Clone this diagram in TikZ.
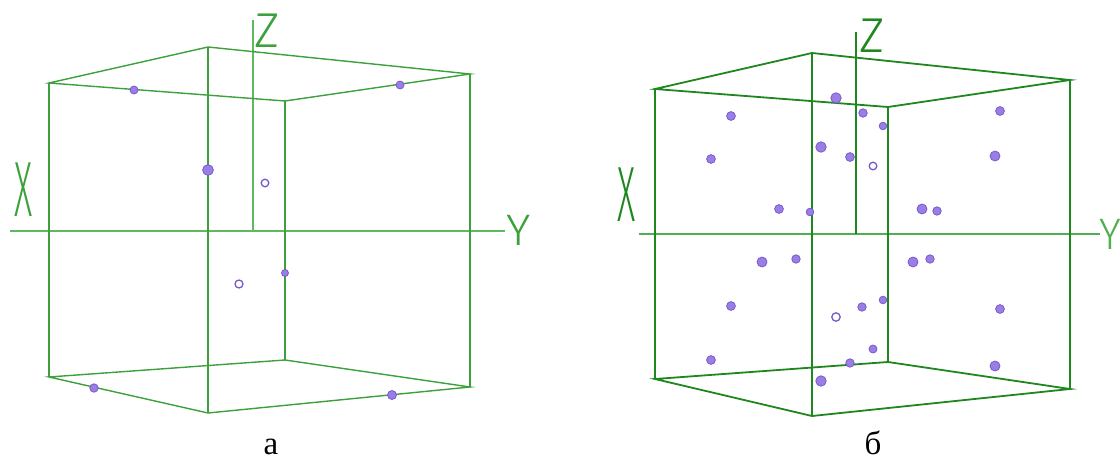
\documentclass[tikz,border=0pt]{standalone}
\usepackage{fontspec}
\setmainfont{Liberation Serif}
\newfontfamily\axfont{Fira Sans Light}
\definecolor{edgeA}{RGB}{60,160,60}
\definecolor{edgeB}{RGB}{30,135,30}
\definecolor{axisA}{RGB}{95,185,95}
\definecolor{axisB}{RGB}{80,175,80}
\definecolor{dotfill}{RGB}{155,125,230}
\definecolor{dotline}{RGB}{120,90,205}
\tikzset{
  edgea/.style={draw=edgeA, line width=1.4pt},
  edgeb/.style={draw=edgeB, line width=1.8pt},
  axisa/.style={draw=axisA, line width=1.1pt},
  axisb/.style={draw=axisB, line width=1.3pt},
  axlabel/.style={inner sep=0pt, font=\axfont\fontsize{49}{49}\selectfont},
  caption/.style={inner sep=0pt, anchor=base, font=\fontsize{33}{33}\selectfont},
  pt/.style={fill=dotfill, draw=dotline, line width=0.8pt},
  hollowpt/.style={fill=white, draw=dotline, line width=1.3pt},
}
\begin{document}
\begin{tikzpicture}[x=1pt,y=-1pt]
\useasboundingbox (0,0) rectangle (1120,460);
% ---------------- left cube (a) ----------------
\coordinate (aA) at (49,83);
\coordinate (aB) at (208,47);
\coordinate (aC) at (285,101);
\coordinate (aD) at (470,74);
\coordinate (aA2) at (49,377);
\coordinate (aF) at (208,413);
\coordinate (aC2) at (285,360);
\coordinate (aD2) at (470,387);
\coordinate (aXl) at (10,231);
\coordinate (aXr) at (505,231);
\coordinate (aZt) at (253,20);
\coordinate (aZb) at (253,231);
\draw[axisa] (aXl) -- (aXr);
\draw[axisa] (aZt) -- (aZb);
\draw[edgea] (aA) -- (aB) -- (aD) -- (aC) -- cycle;
\draw[edgea] (aA2) -- (aF) -- (aD2) -- (aC2) -- cycle;
\draw[edgea] (aA) -- (aA2);
\draw[edgea] (aB) -- (aF);
\draw[edgea] (aC) -- (aC2);
\draw[edgea] (aD) -- (aD2);
\node[axlabel, text=edgeA] (aZ) at (267.5,31) {Z};
\node[axlabel, text=edgeA, xscale=0.72, yscale=1.6] (aX) at (23.5,189.5) {X};
\node[axlabel, text=edgeA, xscale=0.95, yscale=0.9] (aY) at (518.5,230) {Y};
\filldraw[pt] (134,90) circle (4.0);
\filldraw[pt] (208,170) circle (5.4);
\filldraw[hollowpt] (265,183) circle (3.8);
\filldraw[pt] (400,85) circle (4.0);
\filldraw[hollowpt] (239,284) circle (4.0);
\filldraw[pt] (285,273) circle (3.5);
\filldraw[pt] (94,388) circle (4.2);
\filldraw[pt] (392,395) circle (4.5);
\node[caption] (capa) at (271,454) {а};
% ---------------- right cube (б) ----------------
\coordinate (bA) at (655,89);
\coordinate (bB) at (812,53);
\coordinate (bC) at (888,107);
\coordinate (bD) at (1070,80);
\coordinate (bA2) at (655,379);
\coordinate (bF) at (812,416);
\coordinate (bC2) at (888,362);
\coordinate (bD2) at (1070,389);
\coordinate (bXl) at (639,234);
\coordinate (bXr) at (1100,234);
\coordinate (bZt) at (856,32);
\coordinate (bZb) at (856,234);
\draw[axisb] (bXl) -- (bXr);
\draw[edgeb, line width=1.5pt] (bZt) -- (bZb);
\draw[edgeb] (bA) -- (bB) -- (bD) -- (bC) -- cycle;
\draw[edgeb] (bA2) -- (bF) -- (bD2) -- (bC2) -- cycle;
\draw[edgeb] (bA) -- (bA2);
\draw[edgeb] (bB) -- (bF);
\draw[edgeb] (bC) -- (bC2);
\draw[edgeb] (bD) -- (bD2);
\node[axlabel, text=edgeB] (bZ) at (872,35.5) {Z};
\node[axlabel, text=edgeB, xscale=0.72, yscale=1.6] (bX) at (626.5,194.5) {X};
\node[axlabel, text=axisB, xscale=0.85, yscale=0.9] (bY) at (1110,234) {Y};
\foreach \x/\y/\r in {731/116/4.4, 711/159/4.4, 836/98/5.2, 863/113/4.2, 883/126/3.8,
  821/147/5.2, 850/157/4.4, 779/209/4.4, 810/212/3.8, 1000/111/4.4, 995/156/5.0,
  922/209/5.0, 937/211/4.2, 762/262/5.0, 796/259/4.2, 731/306/4.4, 862/307/4.2,
  883/300/3.8, 1000/309/4.4, 711/360/4.4, 850/363/4.2, 873/349/4.0, 821/381/5.2,
  995/366/5.0, 913/262/5.0, 930/259/4.2}
  \filldraw[pt] (\x,\y) circle (\r);
\filldraw[hollowpt] (873,166) circle (3.8);
\filldraw[hollowpt] (836,317) circle (4.2);
\node[caption] (capb) at (873,454) {б};
\end{tikzpicture}
\end{document}
